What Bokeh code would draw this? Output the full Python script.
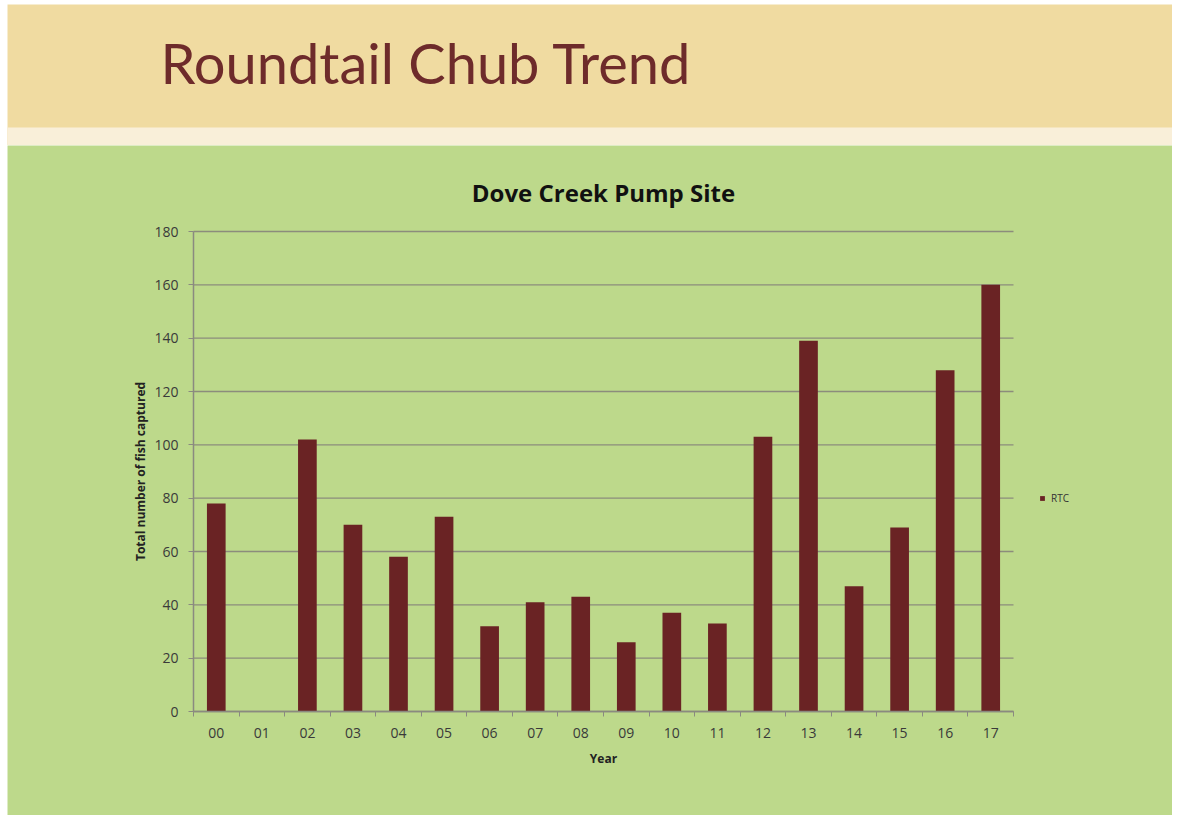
import math
from bokeh.plotting import figure
from bokeh.models import Range1d, FixedTicker, Legend, LegendItem, ColumnDataSource, Label
from bokeh.embed import file_html
from bokeh.resources import INLINE

# ---- data ----
years = ["00", "01", "02", "03", "04", "05", "06", "07", "08", "09",
         "10", "11", "12", "13", "14", "15", "16", "17"]
rtc = [78, 0, 102, 70, 58, 73, 32, 41, 43, 26, 37, 33, 103, 139, 47, 69, 128, 160]
y_ticks = [0, 20, 40, 60, 80, 100, 120, 140, 160, 180]

slide_title = "Roundtail Chub Trend"
chart_title = "Dove Creek Pump Site"
x_label = "Year"
y_label = "Total number of fish captured"
series_name = "RTC"

# ---- styles / layout constants (pixels) ----
W = 1165
HEADER_H = 141
STRIP_H = 18
CHART_H = 670
BEIGE = "#F0DBA1"
CREAM = "#F9EFD9"
GREEN = "#BDD98B"
MAROON = "#6A2324"
TITLE_COLOR = "#6E2B2B"
TFONT = "Lato"
FONT = "Open Sans"

PAD_L, PAD_R, PAD_T, PAD_B = 186, 159, 86, 104   # space around the axes box
AXIS_W = W - PAD_L - PAD_R
AXIS_H = CHART_H - PAD_T - PAD_B
Y_MAX = 180

# ---- header ----
h = figure(width=W, height=HEADER_H, output_backend="svg", toolbar_location=None,
           x_axis_location=None, y_axis_location=None, min_border=0,
           x_range=Range1d(0, W), y_range=Range1d(0, HEADER_H), margin=(4, 0, 0, 7))
h.grid.visible = False
h.outline_line_color = None
h.background_fill_color = BEIGE
h.border_fill_color = BEIGE
h.quad(left=[0], right=[W], bottom=[0], top=[STRIP_H], fill_color=CREAM, line_color=None)
h.add_layout(Label(x=153, y=HEADER_H - 58, text=slide_title, text_font=TFONT,
                   text_font_size="56px", text_color=TITLE_COLOR,
                   text_baseline="alphabetic"))

# ---- chart ----
n = len(years)
xs = [i + 0.5 for i in range(n)]
src = ColumnDataSource(dict(x=xs, top=rtc))

kx = n / AXIS_W          # data units per pixel
ky = Y_MAX / AXIS_H
x_rng = Range1d(-PAD_L * kx, n + PAD_R * kx)
y_rng = Range1d(-PAD_B * ky, Y_MAX + PAD_T * ky)

p = figure(width=W, height=CHART_H, x_range=x_rng, y_range=y_rng,
           output_backend="svg", toolbar_location=None, margin=(0, 0, 0, 7),
           min_border=0)
p.background_fill_color = GREEN
p.border_fill_color = GREEN
p.outline_line_color = None
p.grid.visible = False

# horizontal gridlines limited to the axis extent
p.segment(x0=0, x1=n, y0=y_ticks, y1=y_ticks, line_color="#8C8C7C", line_width=1.3)

r = p.vbar(x="x", top="top", width=0.41, bottom=0, source=src,
           fill_color=MAROON, line_color=None)

AX = "#8A8A80"
# x axis
xa = p.xaxis[0]
xa.fixed_location = 0
xa.bounds = (0, n)
xa.ticker = FixedTicker(ticks=xs, minor_ticks=list(range(n + 1)))
xa.major_label_overrides = {x: y for x, y in zip(xs, years)}
xa.major_tick_out = 0
xa.major_tick_in = 0
xa.minor_tick_out = 5
xa.minor_tick_in = 0
xa.minor_tick_line_color = AX
xa.axis_line_color = AX
xa.axis_line_width = 1.5
xa.major_label_text_font = FONT
xa.major_label_text_font_size = "14px"
xa.major_label_text_color = "#3A3A3A"
xa.major_label_standoff = 11

# y axis
ya = p.yaxis[0]
ya.fixed_location = 0
ya.bounds = (0, Y_MAX)
ya.ticker = FixedTicker(ticks=y_ticks)
ya.major_tick_out = 5
ya.major_tick_in = 0
ya.minor_tick_out = 0
ya.minor_tick_in = 0
ya.major_tick_line_color = AX
ya.axis_line_color = AX
ya.axis_line_width = 1.5
ya.major_label_text_font = FONT
ya.major_label_text_font_size = "14px"
ya.major_label_text_color = "#3A3A3A"
ya.major_label_standoff = 10

# titles (positioned relative to the axes box, in pixels converted to data units)
p.add_layout(Label(x=n / 2, y=Y_MAX + 39 * ky, text=chart_title, text_font=FONT,
                   text_font_size="24px", text_font_style="bold", text_color="#111111",
                   text_align="center", text_baseline="middle"))
p.add_layout(Label(x=n / 2, y=-47 * ky, text=x_label, text_font=FONT,
                   text_font_size="12px", text_font_style="bold", text_color="#222222",
                   text_align="center", text_baseline="middle"))
p.add_layout(Label(x=-53 * kx, y=Y_MAX / 2, text=y_label, text_font=FONT,
                   text_font_size="12px", text_font_style="bold", text_color="#222222",
                   text_align="center", text_baseline="middle", angle=math.pi / 2))

legend = Legend(items=[LegendItem(label=series_name, renderers=[r])],
                location=(PAD_L + AXIS_W + 26, PAD_B + 206), padding=0, margin=0,
                glyph_width=6, glyph_height=6,
                label_text_font=FONT, label_text_font_size="10px", label_text_color="#333333",
                background_fill_alpha=0, border_line_color=None, label_standoff=6)
p.add_layout(legend)

open("out.html", "w").write(file_html([h, p], INLINE))
